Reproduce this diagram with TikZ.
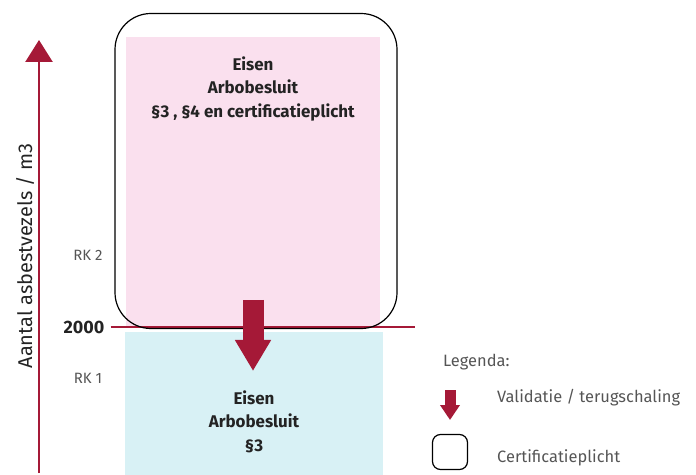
\documentclass[tikz,border=0pt]{standalone}
\usepackage{fontspec}
\setmainfont{Fira Sans}
\usetikzlibrary{arrows.meta,positioning}

\definecolor{rkred}{RGB}{165,25,55}
\definecolor{rkpink}{RGB}{250,224,238}
\definecolor{rkcyan}{RGB}{216,241,245}
\definecolor{rktext}{RGB}{35,35,35}
\definecolor{rkgray}{RGB}{85,85,85}

\begin{document}
\begin{tikzpicture}[x=1bp,y=-1bp,
        every node/.style={inner sep=0pt,text=rktext},
        region/.style={draw=none,minimum width=#1},
        eisen/.style={align=center,font=\fontsize{17}{23.5}\selectfont\bfseries},
        rklabel/.style={text=rkgray,font=\fontsize{15}{17}\selectfont},
        legend/.style={text=rkgray,font=\fontsize{16.5}{19}\selectfont,anchor=west},
        axis/.style={draw=rkred,line width=2.5bp,-{Triangle[width=27bp,length=22bp]}},
        validatie/.style={draw=rkred,line width=#1},
        certbox/.style={draw=black,line width=1.2bp}]

  \useasboundingbox (0,0) rectangle (696,475);

  % gebieden
  \node[region=254bp,fill=rkpink,minimum height=289bp] (rk2) at (253,182) {};
  \node[region=258bp,fill=rkcyan,minimum height=143bp] (rk1) at (254,403.5) {};

  \node[eisen] (eisen2) at (253,89) {Eisen\\Arbobesluit\\§3 , §4 en certificatieplicht};
  \node[eisen] (eisen1) at (254,421.5) {Eisen\\Arbobesluit\\§3};

  % grens 2000
  \node[font=\fontsize{18}{20}\selectfont\bfseries] (n2000) at (84,327) {2000};
  \coordinate (limR) at (415,327);
  \draw[rkred,line width=1.5bp,shorten <=6bp] (n2000.east) -- (limR);

  \node[certbox,minimum width=282bp,minimum height=315bp,rounded corners=36bp] (cert) at (256,171) {};

  \coordinate (vtop) at (253,300);
  \coordinate (vtip) at (253,371);
  \draw[validatie=21bp,-{Triangle[width=34bp,length=31bp]}] (vtop) -- (vtip);

  % as
  \coordinate (ax0) at (39,473);
  \coordinate (ax1) at (39,40);
  \draw[axis] (ax0) -- (ax1);
  \node[rotate=90,font=\fontsize{20}{22}\selectfont] (aslabel) at (25,256) {Aantal asbestvezels / m3};

  \node[rklabel] (rk2lab) at (88,255) {RK 2};
  \node[rklabel] (rk1lab) at (88,378) {RK 1};

  % legenda
  \node[legend] (legenda) at (443,362) {Legenda:};
  \coordinate (ltop) at (450,390);
  \coordinate (ltip) at (450,420);
  \draw[validatie=11bp,-{Triangle[width=19bp,length=15bp]}] (ltop) -- (ltip);
  \node[legend] (lval) at (497,398) {Validatie / terugschaling};
  \node[certbox,minimum width=35bp,minimum height=35bp,rounded corners=8bp] (lbox) at (450,452) {};
  \node[legend] (lcert) at (497,458) {Certificatieplicht};

\end{tikzpicture}
\end{document}
